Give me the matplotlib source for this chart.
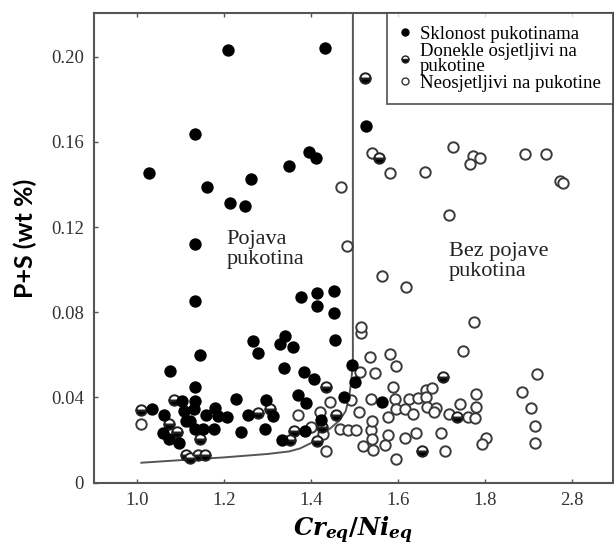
import matplotlib
matplotlib.use("Agg")
import matplotlib.pyplot as plt
from matplotlib.lines import Line2D

plt.rcParams['mathtext.fontset'] = 'custom'
plt.rcParams['mathtext.it'] = 'DejaVu Serif:italic:bold'
plt.rcParams['mathtext.rm'] = 'DejaVu Serif:bold'

# Sklonost pukotinama (filled)
filled_x = [1.2667, 1.3395, 1.328, 1.3586, 1.4545, 1.2782, 1.1441, 1.0768, 1.3372, 1.3832,
            1.4069, 1.4952, 1.5005, 1.1326, 1.3701, 1.2285, 1.2975, 1.3878, 1.4759, 1.1034,
            1.1326, 1.0354, 1.1074, 1.1310, 1.1786, 1.3126, 1.2552, 1.0614, 1.1579, 1.1862,
            1.2078, 1.1120, 1.1211, 1.1326, 1.1517, 1.1770, 1.2936, 1.2384, 1.4239, 1.3855,
            1.0598, 1.0736, 1.0959, 1.3343, 1.4522, 1.4522, 1.5632, 1.2092, 1.4315, 1.5257,
            1.1326, 1.3954, 1.4108, 1.3494, 1.0276, 1.2630, 1.1609, 1.2147, 1.2492, 1.1326,
            1.1326, 1.3763, 1.4147, 1.4147]
filled_y = [0.0666, 0.0688, 0.0651, 0.0638, 0.0669, 0.0607, 0.0599, 0.0525, 0.0536, 0.0520,
            0.0485, 0.0552, 0.0473, 0.0447, 0.0411, 0.0391, 0.0388, 0.0372, 0.0403, 0.0384,
            0.0384, 0.0344, 0.0337, 0.0344, 0.0350, 0.0312, 0.0317, 0.0316, 0.0316, 0.0312,
            0.0306, 0.0290, 0.0290, 0.0250, 0.0250, 0.0253, 0.0253, 0.0239, 0.0294, 0.0243,
            0.0231, 0.0203, 0.0184, 0.0200, 0.0899, 0.0795, 0.0380, 0.2031, 0.2042, 0.1676,
            0.1636, 0.1554, 0.1523, 0.1487, 0.1452, 0.1424, 0.1389, 0.1311, 0.1300, 0.1119,
            0.0853, 0.0870, 0.0891, 0.0830]

# Donekle osjetljivi na pukotine (half filled)
half_x = [1.4354, 1.0851, 1.0085, 1.2782, 1.3067, 1.0729, 1.4568, 1.4262, 1.3609, 1.0920,
          1.1441, 1.3510, 1.4147, 1.1120, 1.1228, 1.1402, 1.1556, 1.7034, 1.7366, 1.6561,
          1.5251, 1.5563]
half_y = [0.0450, 0.0388, 0.0341, 0.0328, 0.0344, 0.0273, 0.0317, 0.0259, 0.0243, 0.0239,
          0.0203, 0.0200, 0.0196, 0.0129, 0.0114, 0.0129, 0.0129, 0.0494, 0.0309, 0.0149,
          0.1899, 0.1523]

# Neosjetljivi na pukotine (open)
open_x = [1.5159, 1.5349, 1.5136, 1.5464, 1.4929, 1.4430, 1.5389, 1.3701, 1.4216, 1.5103,
          1.0085, 1.4009, 1.4276, 1.4660, 1.4851, 1.5044, 1.5389, 1.5411, 1.5411, 1.5195,
          1.5425, 1.4354, 1.6177, 1.7763, 1.5159, 1.7494, 1.5825, 1.5963, 1.9195, 1.5885,
          1.6653, 1.6791, 1.7802, 1.8851, 1.5940, 1.6246, 1.6460, 1.6653, 1.7434, 1.7802,
          1.9057, 1.6667, 1.6883, 1.5947, 1.6154, 1.6345, 1.6828, 1.5779, 1.7172, 1.7609,
          1.7779, 1.9159, 1.6423, 1.6982, 1.5770, 1.6154, 1.8032, 1.7931, 1.9166, 1.5694,
          1.7074, 1.5963, 1.7264, 1.7724, 1.7894, 1.7664, 1.5809, 1.6630, 1.8936, 1.9411,
          1.9740, 1.9809, 1.4683, 1.7166, 1.4828, 1.5632, 1.5395]
open_y = [0.0704, 0.0591, 0.0520, 0.0513, 0.0388, 0.0380, 0.0391, 0.0317, 0.0333, 0.0333,
          0.0273, 0.0259, 0.0228, 0.0250, 0.0247, 0.0247, 0.0247, 0.0290, 0.0203, 0.0171,
          0.0153, 0.0149, 0.0917, 0.0755, 0.0732, 0.0618, 0.0604, 0.0547, 0.0508, 0.0450,
          0.0434, 0.0442, 0.0414, 0.0424, 0.0392, 0.0392, 0.0395, 0.0400, 0.0369, 0.0353,
          0.0349, 0.0356, 0.0351, 0.0344, 0.0344, 0.0322, 0.0333, 0.0306, 0.0322, 0.0309,
          0.0302, 0.0267, 0.0231, 0.0231, 0.0223, 0.0210, 0.0210, 0.0179, 0.0187, 0.0176,
          0.0149, 0.0110, 0.1577, 0.1535, 0.1523, 0.1496, 0.1452, 0.1457, 0.1543, 0.1543,
          0.1418, 0.1405, 0.1389, 0.1256, 0.1111, 0.0971, 0.1546]

# granica pojave pukotina
curve_x = [1.0101, 1.10, 1.20, 1.30, 1.350, 1.375, 1.400, 1.425, 1.445, 1.465, 1.480,
           1.488, 1.493, 1.4966, 1.4966]
curve_y = [0.0093, 0.0105, 0.0118, 0.0134, 0.0146, 0.0160, 0.0185, 0.0225, 0.0255,
           0.0290, 0.0335, 0.0400, 0.0480, 0.0561, 0.2300]

xticks = [1.0, 1.2, 1.4, 1.6, 1.8, 2.0]
xtick_labels = ['1.0', '1.2', '1.4', '1.6', '1.8', '2.8']
yticks = [0, 0.04, 0.08, 0.12, 0.16, 0.20]
ytick_labels = ['0', '0.04', '0.08', '0.12', '0.16', '0.20']

fig = plt.figure(figsize=(6.14, 5.48), dpi=100)
ax = fig.add_axes([0.1523, 0.1195, 0.8461, 0.8562])

ax.plot(curve_x, curve_y, color='#555555', lw=1.4, zorder=1)

ms = 7.5
mew = 1.4
ax.plot(open_x, open_y, 'o', ls='none', ms=ms, mfc='white', mec='#3a3a3a', mew=mew, zorder=2)
ax.plot(half_x, half_y, 'o', ls='none', ms=ms, fillstyle='bottom', mfc='black',
        mfcalt='white', mec='#222222', mew=mew, zorder=3)
ax.plot(filled_x, filled_y, 'o', ls='none', ms=ms, mfc='black', mec='black', mew=mew, zorder=4)

ax.set_xlim(0.9, 2.095)
ax.set_ylim(0, 0.2204)

serif = 'Liberation Serif'
ax.set_xticks(xticks)
ax.set_xticklabels(xtick_labels, fontfamily=serif, fontsize=13.5, color='#333333')
ax.set_yticks(yticks)
ax.set_yticklabels(ytick_labels, fontfamily=serif, fontsize=13.5, color='#333333')
ax.tick_params(direction='in', length=3, width=1, color='#555555', top=True, pad=7)
for s in ax.spines.values():
    s.set_color('#555555')
    s.set_linewidth(1.5)

ax.text(1.2055, 0.1094, 'Pojava\npukotina', fontfamily=serif, fontsize=16,
        color='#222222', ha='left', va='center', linespacing=1.05)
ax.text(1.7166, 0.1037, 'Bez pojave\npukotina', fontfamily=serif, fontsize=16,
        color='#222222', ha='left', va='center', linespacing=1.05)

ax.set_ylabel('P+S (wt %)', fontfamily='Lato', fontweight='bold', fontsize=18)
ax.yaxis.set_label_coords(-0.108, 0.52)
ax.set_xlabel(r'$Cr_{eq}/Ni_{eq}$', fontsize=17.5, labelpad=4)

handles = [
    Line2D([], [], ls='none', marker='o', ms=5, mfc='black', mec='black'),
    Line2D([], [], ls='none', marker='o', ms=5, fillstyle='bottom', mfc='black',
           mfcalt='white', mec='#222222', mew=1),
    Line2D([], [], ls='none', marker='o', ms=5, mfc='white', mec='#333333', mew=1),
]
labels = ['Sklonost pukotinama', 'Donekle osjetljivi na\npukotine', 'Neosjetljivi na pukotine']
leg = ax.legend(handles, labels, loc='upper right', borderaxespad=0, fancybox=False,
                prop={'family': serif, 'size': 13.5}, handlelength=0.6, handletextpad=0.5,
                labelspacing=0.0, borderpad=0.65, frameon=True)
leg.get_texts()[1].set_linespacing(0.85)
leg.get_frame().set_edgecolor('#444444')
leg.get_frame().set_linewidth(1.4)
leg.set_zorder(5)

fig.savefig('out.png', dpi=100)
